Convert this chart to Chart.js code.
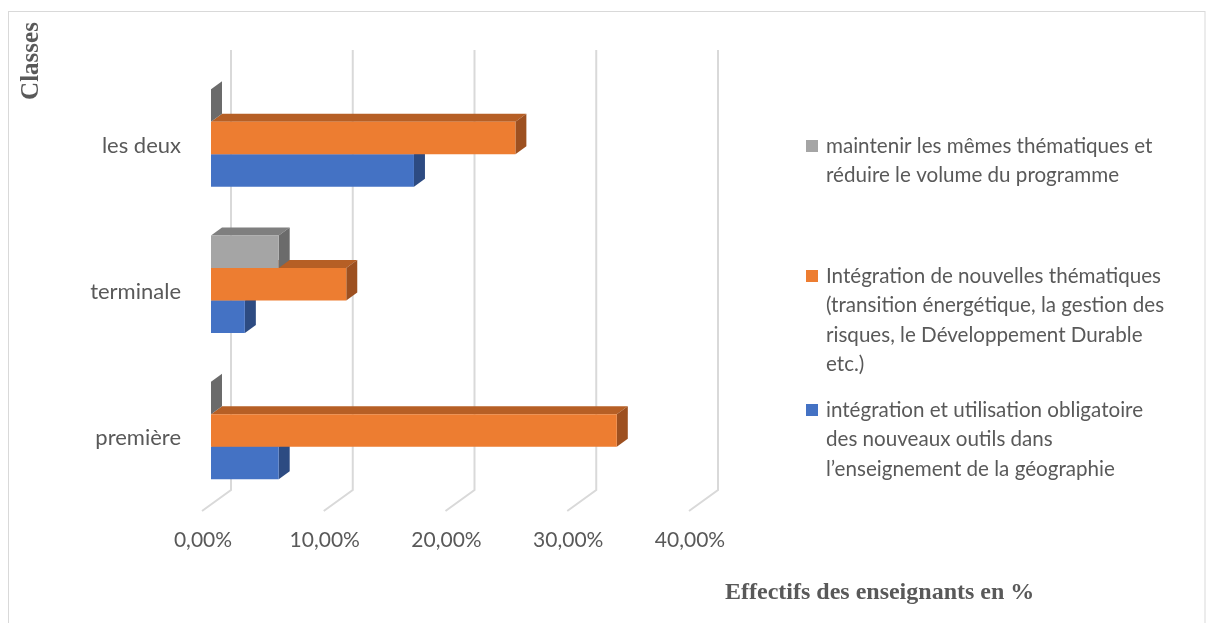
<!DOCTYPE html>
<html lang="fr">
<head>
<meta charset="utf-8">
<title>Effectifs des enseignants par classe</title>
<script src="https://cdn.jsdelivr.net/npm/chart.js@4.4.1/dist/chart.umd.min.js"></script>
<style>
  html, body { margin: 0; padding: 0; background: #ffffff; }
  #wrap { position: relative; width: 1206px; height: 623px; }
  canvas { display: block; }
</style>
</head>
<body>
<div id="wrap"><canvas id="chart" width="1206" height="623"></canvas></div>
<script>
// Classes (vertical axis, top to bottom)
const classes = ['les deux', 'terminale', 'première'];

// Share of teachers (%) per proposal
const maintenirThematiques = [0, 5.56, 0];
const nouvellesThematiques = [25, 11.11, 33.33];
const nouveauxOutils = [16.67, 2.78, 5.56];

// Series names, split into the lines shown in the legend
const nomMaintenir = ['maintenir les mêmes thématiques et', 'réduire le volume du programme'];
const nomNouvelles = ['Intégration de nouvelles thématiques', '(transition énergétique, la gestion des', 'risques, le Développement Durable', 'etc.)'];
const nomOutils = ['intégration et utilisation obligatoire', 'des nouveaux outils dans', 'l’enseignement de la géographie'];

// Horizontal axis ticks (%)
const axeTicks = [0, 10, 20, 30, 40];

const TEXT = '#595959';
const SANS = 'Lato, "Open Sans", sans-serif';
const SERIF = '"Liberation Serif", "DejaVu Serif", serif';

// Faux-3D depth of each bar
const DEPTH_X = 11;
const DEPTH_Y = 8;

const fmtPct = v => v.toFixed(2).replace('.', ',') + '%';

const depthPlugin = {
  id: 'depth3d',
  beforeDatasetsDraw(chart) {
    const ctx = chart.ctx;
    const xs = chart.scales.x;
    // Back-wall gridlines with their floor segment
    ctx.save();
    ctx.strokeStyle = '#D9D9D9';
    ctx.lineWidth = 2;
    xs.ticks.forEach(t => {
      const px = xs.getPixelForValue(t.value);
      ctx.beginPath();
      ctx.moveTo(px + 20, 50);
      ctx.lineTo(px + 20, 490);
      ctx.lineTo(px - 9, 511);
      ctx.stroke();
    });
    // Top and side faces, lowest series first so upper bars sit on top
    for (let d = chart.data.datasets.length - 1; d >= 0; d--) {
      const ds = chart.data.datasets[d];
      const meta = chart.getDatasetMeta(d);
      meta.data.forEach(bar => {
        const p = bar.getProps(['x', 'y', 'base', 'height'], true);
        const top = p.y - p.height / 2;
        const bottom = p.y + p.height / 2;
        ctx.fillStyle = ds.topColor;
        ctx.beginPath();
        ctx.moveTo(p.base, top);
        ctx.lineTo(p.base + DEPTH_X, top - DEPTH_Y);
        ctx.lineTo(p.x + DEPTH_X, top - DEPTH_Y);
        ctx.lineTo(p.x, top);
        ctx.closePath();
        ctx.fill();
        ctx.fillStyle = ds.sideColor;
        ctx.beginPath();
        ctx.moveTo(p.x, top);
        ctx.lineTo(p.x + DEPTH_X, top - DEPTH_Y);
        ctx.lineTo(p.x + DEPTH_X, bottom - DEPTH_Y);
        ctx.lineTo(p.x, bottom);
        ctx.closePath();
        ctx.fill();
      });
    }
    ctx.restore();
  },
  afterDraw(chart) {
    const ctx = chart.ctx;
    ctx.save();
    // Frame
    ctx.strokeStyle = '#D9D9D9';
    ctx.lineWidth = 1;
    ctx.strokeRect(8.5, 11.5, 1196.5, 640);

    // Axis titles
    ctx.fillStyle = TEXT;
    ctx.font = 'bold 25px ' + SERIF;
    ctx.textAlign = 'center';
    ctx.textBaseline = 'alphabetic';
    ctx.translate(38, 61);
    ctx.rotate(-Math.PI / 2);
    ctx.fillText('Classes', 0, 0);
    ctx.setTransform(1, 0, 0, 1, 0, 0);

    ctx.font = 'bold 24px ' + SERIF;
    ctx.textAlign = 'left';
    ctx.fillText('Effectifs des enseignants en %', 725, 599);

    // Legend
    const firstLineY = [146, 276, 410];
    const lineH = 29.5;
    ctx.font = '20.6px ' + SANS;
    ctx.textBaseline = 'middle';
    chart.data.datasets.forEach((ds, i) => {
      const y0 = firstLineY[i];
      ctx.fillStyle = ds.backgroundColor;
      ctx.fillRect(806, y0 - 6, 12, 12);
      ctx.fillStyle = TEXT;
      ds.legendLines.forEach((line, k) => ctx.fillText(line, 826, y0 + k * lineH));
    });
    ctx.restore();
  }
};

const chart = new Chart(document.getElementById('chart'), {
  type: 'bar',
  data: {
    labels: classes,
    datasets: [
      {
        label: nomMaintenir.join(' '),
        legendLines: nomMaintenir,
        data: maintenirThematiques,
        backgroundColor: '#A5A5A5',
        topColor: '#7F7F7F',
        sideColor: '#6B6B6B'
      },
      {
        label: nomNouvelles.join(' '),
        legendLines: nomNouvelles,
        data: nouvellesThematiques,
        backgroundColor: '#ED7D31',
        topColor: '#B65F25',
        sideColor: '#9D5020'
      },
      {
        label: nomOutils.join(' '),
        legendLines: nomOutils,
        data: nouveauxOutils,
        backgroundColor: '#4472C4',
        topColor: '#34599A',
        sideColor: '#2D4B82'
      }
    ]
  },
  options: {
    indexAxis: 'y',
    responsive: false,
    animation: false,
    devicePixelRatio: 1,
    layout: { padding: { top: 65, right: 508, bottom: 0, left: 0 } },
    datasets: { bar: { categoryPercentage: 0.667, barPercentage: 1, borderWidth: 0 } },
    plugins: { legend: { display: false }, tooltip: { enabled: false } },
    scales: {
      x: {
        min: axeTicks[0],
        max: axeTicks[axeTicks.length - 1],
        afterBuildTicks: s => { s.ticks = axeTicks.map(v => ({ value: v })); },
        afterFit: s => { s.height = 119.5; },
        grid: { display: false, drawTicks: false },
        border: { display: false },
        ticks: {
          padding: 24,
          labelOffset: -8,
          color: TEXT,
          font: { family: SANS, size: 21 },
          callback: v => fmtPct(v)
        }
      },
      y: {
        afterFit: s => { s.width = 211; },
        grid: { display: false, drawTicks: false },
        border: { display: false },
        ticks: {
          padding: 30,
          labelOffset: 7.5,
          color: TEXT,
          font: { family: SANS, size: 22 }
        }
      }
    }
  },
  plugins: [depthPlugin]
});
</script>
</body>
</html>
